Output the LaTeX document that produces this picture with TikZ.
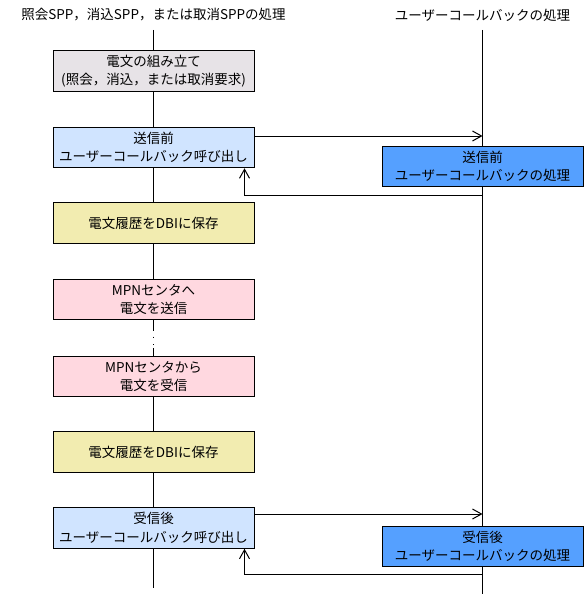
\documentclass[tikz,border=0pt]{standalone}
\usepackage{fontspec}
\setmainfont{Noto Sans CJK JP}
\usetikzlibrary{arrows.meta}
\definecolor{cgray}{RGB}{231,227,231}
\definecolor{clblue}{RGB}{208,228,255}
\definecolor{cyel}{RGB}{242,236,176}
\definecolor{cpink}{RGB}{255,216,224}
\definecolor{cblue}{RGB}{85,160,255}
\begin{document}
\begin{tikzpicture}[x=1pt,y=-1pt,line width=1pt,
  font=\fontsize{13.5}{18.5}\selectfont,
  box/.style={draw=black,minimum width=201pt,minimum height=40.5pt,inner sep=0pt,align=center},
  ttl/.style={inner sep=0pt,anchor=center},
  arr/.style={-{Straight Barb[length=9pt,width=10pt,line width=1pt]}},
  life/.style={draw=black}]
\useasboundingbox (0,0) rectangle (587,594);
% titles
\node[ttl] (tl) at (153.5,15) {照会SPP，消込SPP，または取消SPPの処理};
\node[ttl] (tr) at (482.5,15) {ユーザーコールバックの処理};
% coordinates for lifelines
\coordinate (ltop) at (153.5,30);
\coordinate (lbot) at (153.5,588);
\coordinate (rtop) at (482.5,30);
\coordinate (rbot) at (482.5,594);
\coordinate (d1) at (153.5,331);
\coordinate (d2) at (153.5,348);
\coordinate (ret1) at (482.5,195);
\coordinate (ret2) at (482.5,574);
% left boxes
\node[box,fill=cgray] (b1) at (153.5,71) {電文の組み立て\\(照会，消込，または取消要求)};
\node[box,fill=clblue] (b2) at (153.5,147.5) {送信前\\ユーザーコールバック呼び出し};
\node[box,fill=cyel] (b3) at (153.5,223) {電文履歴をDBIに保存};
\node[box,fill=cpink] (b4) at (153.5,299.5) {MPNセンタへ\\電文を送信};
\node[box,fill=cpink] (b5) at (153.5,376.5) {MPNセンタから\\電文を受信};
\node[box,fill=cyel] (b6) at (153.5,452) {電文履歴をDBIに保存};
\node[box,fill=clblue] (b7) at (153.5,528) {受信後\\ユーザーコールバック呼び出し};
% right boxes
\node[box,fill=cblue] (r1) at (482.5,166.5) {送信前\\ユーザーコールバックの処理};
\node[box,fill=cblue] (r2) at (482.5,546.5) {受信後\\ユーザーコールバックの処理};
% left lifeline
\draw[life] (ltop) -- (b1.north);
\draw[life] (b1.south) -- (b2.north);
\draw[life] (b2.south) -- (b3.north);
\draw[life] (b3.south) -- (b4.north);
\draw[life] (b4.south) -- (d1);
\draw[life,line cap=butt,dash pattern=on 1pt off 6.5pt] ([yshift=-5.5pt]d1) -- (d2);
\draw[life] (d2) -- (b5.north);
\draw[life] (b5.south) -- (b6.north);
\draw[life] (b6.south) -- (b7.north);
\draw[life] (b7.south) -- (lbot);
% right lifeline
\draw[life] (rtop) -- (r1.north);
\draw[life] (r1.south) -- (r2.north);
\draw[life] (r2.south) -- (rbot);
% calls
\draw[arr] ([yshift=11.5pt]b2.east) -- ([yshift=11.5pt]b2.east -| rtop);
\draw[arr] (ret1) -| ([xshift=-10pt]b2.south east);
\draw[arr] ([yshift=14pt]b7.east) -- ([yshift=14pt]b7.east -| rtop);
\draw[arr] (ret2) -| ([xshift=-10pt]b7.south east);
\end{tikzpicture}
\end{document}
